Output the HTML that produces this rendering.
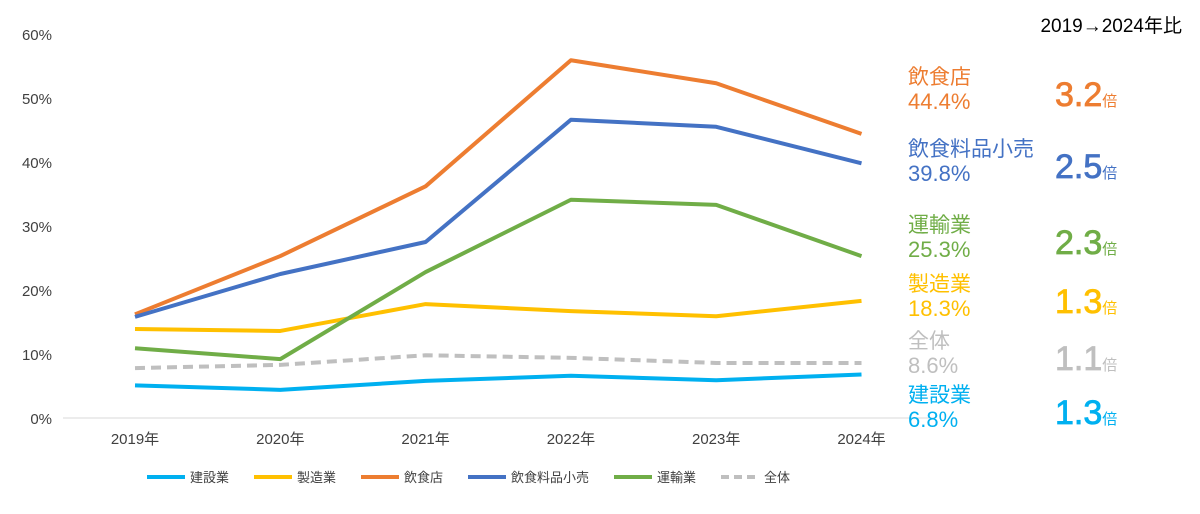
<!DOCTYPE html>
<html><head><meta charset="utf-8"><style>
body{margin:0;background:#fff;font-family:"Liberation Sans","Noto Sans CJK JP",sans-serif;}
svg text{font-family:"Liberation Sans","Noto Sans CJK JP",sans-serif;}
</style></head><body>
<svg id="chart" width="1200" height="509" xmlns="http://www.w3.org/2000/svg">
<g id="axes"></g><g id="lines"></g><g id="side"></g><g id="legend"></g>
</svg>
<script>
const categories=["2019年","2020年","2021年","2022年","2023年","2024年"];
const yTicks=[0,10,20,30,40,50,60];
const sKensetsu=[5.1,4.4,5.8,6.6,5.9,6.8];
const sSeizo=[13.9,13.6,17.8,16.7,15.9,18.3];
const sInshoku=[16.2,25.3,36.2,55.9,52.3,44.4];
const sKouri=[15.8,22.5,27.5,46.6,45.5,39.8];
const sUnyu=[10.9,9.2,22.8,34.1,33.3,25.3];
const sZentai=[7.8,8.3,9.8,9.4,8.6,8.6];
const seriesNames=["建設業","製造業","飲食店","飲食料品小売","運輸業","全体"];
const seriesColors=["#00b0f0","#ffc000","#ed7d31","#4472c4","#70ad47","#bfbfbf"];
const ratios=["1.3","1.3","3.2","2.5","2.3","1.1"];
const NS="http://www.w3.org/2000/svg";
const all=[sKensetsu,sSeizo,sInshoku,sKouri,sUnyu,sZentai];
const x=i=>135+i*145.3;
const y=v=>418-v*6.4;
function mk(t,a,p){const e=document.createElementNS(NS,t);for(const k in a)e.setAttribute(k,a[k]);p.appendChild(e);return e;}
const ax=document.getElementById('axes');
const base=mk('line',{x1:63,x2:935,y1:418,y2:418,stroke:'#d9d9d9','stroke-width':1},ax);

yTicks.forEach(t=>{const e=mk('text',{x:52,y:y(t)+6,'text-anchor':'end','font-size':15,fill:'#404040'},ax);e.textContent=t+'%';
});
categories.forEach((c,i)=>{const e=mk('text',{x:x(i),y:444,'text-anchor':'middle','font-size':15,fill:'#404040'},ax);e.textContent=c;
});
const lg=document.getElementById('lines');
all.forEach((s,k)=>{const p=mk('polyline',{points:s.map((v,i)=>x(i)+','+y(v)).join(' '),fill:'none',stroke:seriesColors[k],'stroke-width':4,'stroke-linejoin':'round','stroke-dasharray':k==5?'10,6':'none'},lg);
});
const sd=document.getElementById('side');
const tt=mk('text',{x:1182,y:32,'text-anchor':'end','font-size':19,fill:'#000'},sd);tt.textContent='2019→2024年比';

const order=[2,3,4,1,5,0];const tops=[84,156,232,291,348,402];
order.forEach((k,j)=>{const g=mk('g',{},sd);
const col=k==5?'#bfbfbf':seriesColors[k];
mk('text',{x:908,y:tops[j],'font-size':21,fill:col},g).textContent=seriesNames[k];
mk('text',{x:908,y:tops[j]+25,'font-size':22,fill:col},g).textContent=all[k][5].toFixed(1)+'%';
const r=mk('text',{x:1055,y:tops[j]+22,'font-size':34,fill:col,stroke:col,'stroke-width':0.8},g);r.textContent=ratios[k];
const b=mk('tspan',{'font-size':15,'stroke-width':0},r);b.textContent='倍';});
const le=document.getElementById('legend');
let lx=147;
seriesNames.forEach((n,k)=>{const g=mk('g',{},le);
mk('line',{x1:lx,x2:lx+38,y1:477,y2:477,stroke:seriesColors[k],'stroke-width':4,'stroke-dasharray':k==5?'8,5':'none'},g);
const t=mk('text',{x:lx+43,y:482,'font-size':13,fill:'#404040'},g);t.textContent=n;
lx+=43+n.length*13+25;});
</script>
</body></html>
